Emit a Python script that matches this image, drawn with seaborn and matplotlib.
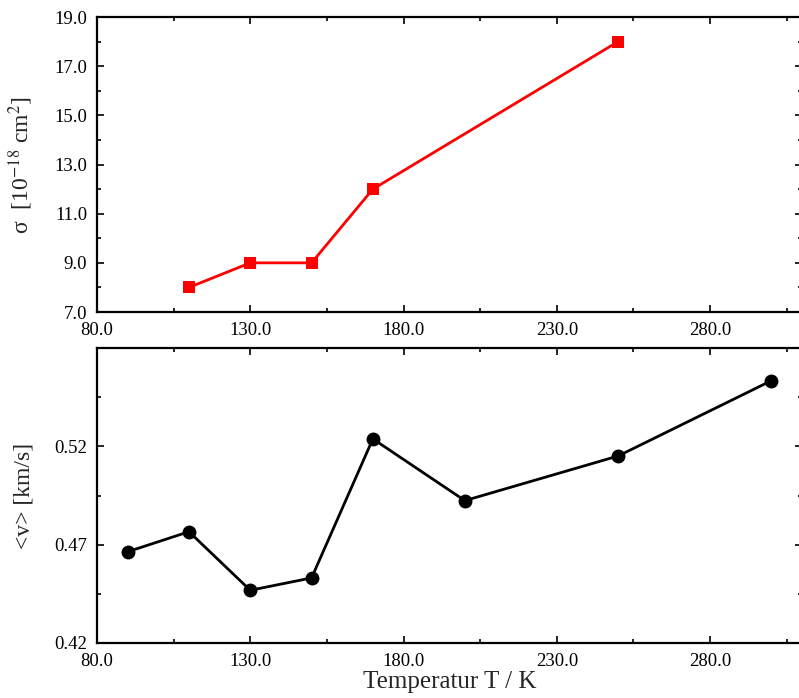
import matplotlib
matplotlib.use("Agg")
import matplotlib.pyplot as plt
from matplotlib.ticker import FixedLocator, FormatStrFormatter
import pandas as pd
import seaborn as sns

# Cross section vs temperature
t_sigma = [110, 130, 150, 170, 250]
sigma = [8.0, 9.0, 9.0, 12.0, 18.0]

# Mean velocity vs temperature
t_vel = [90, 110, 130, 150, 170, 200, 250, 300]
vel = [0.4664, 0.4766, 0.4468, 0.4531, 0.5238, 0.4924, 0.5151, 0.5534]

# Tick positions
x_major = [80, 130, 180, 230, 280]
x_minor = [105, 155, 205, 255, 305]
sig_major = [7, 9, 11, 13, 15, 17, 19]
sig_minor = [8, 10, 12, 14, 16, 18]
vel_major = [0.42, 0.47, 0.52]
vel_minor = [0.445, 0.495, 0.545]

sns.set_theme(style="ticks")
plt.rcParams["font.family"] = ["Liberation Serif", "DejaVu Serif"]
plt.rcParams["mathtext.fontset"] = "stix"

fig = plt.figure(figsize=(7.99, 6.98), dpi=100)
ax1 = fig.add_axes([0.1214, 0.553, 0.8824, 0.4226])
ax2 = fig.add_axes([0.1214, 0.0788, 0.8824, 0.4226])

df_s = pd.DataFrame({"T": t_sigma, "sigma": sigma})
df_v = pd.DataFrame({"T": t_vel, "v": vel})

sns.lineplot(data=df_s, x="T", y="sigma", ax=ax1, color="#ff0000",
             marker="s", markersize=9, markeredgewidth=0, linewidth=2)
sns.lineplot(data=df_v, x="T", y="v", ax=ax2, color="black",
             marker="o", markersize=10, markeredgewidth=0, linewidth=2)

for ax in (ax1, ax2):
    ax.set_xlim(80, 310)
    ax.xaxis.set_major_locator(FixedLocator(x_major))
    ax.xaxis.set_minor_locator(FixedLocator(x_minor))
    ax.xaxis.set_major_formatter(FormatStrFormatter("%.1f"))
    ax.tick_params(which="both", direction="in", top=True, right=True,
                   width=1.2, labelsize=13.5, colors="black")
    ax.tick_params(which="major", length=5)
    ax.tick_params(which="minor", length=3)
    ax.tick_params(axis="y", which="major", pad=7)
    ax.tick_params(axis="x", which="major", pad=7)
    for sp in ax.spines.values():
        sp.set_visible(True)
        sp.set_linewidth(1.6)
        sp.set_color("black")
    ax.set_xlabel("")

ax1.set_ylim(7.0, 19.0)
ax1.yaxis.set_major_locator(FixedLocator(sig_major))
ax1.yaxis.set_minor_locator(FixedLocator(sig_minor))
ax1.yaxis.set_major_formatter(FormatStrFormatter("%.1f"))
ax1.set_ylabel("σ  [10$^{-18}$ cm$^{2}$]", fontsize=17)
ax1.yaxis.set_label_coords(-0.088, 0.5)

ax2.set_ylim(0.42, 0.57)
ax2.yaxis.set_major_locator(FixedLocator(vel_major))
ax2.yaxis.set_minor_locator(FixedLocator(vel_minor))
ax2.yaxis.set_major_formatter(FormatStrFormatter("%.2f"))
ax2.set_ylabel("<v> [km/s]", fontsize=17)
ax2.yaxis.set_label_coords(-0.088, 0.5)
ax2.set_xlabel("Temperatur T / K", fontsize=18, labelpad=1)

fig.savefig("out.png", dpi=100)
